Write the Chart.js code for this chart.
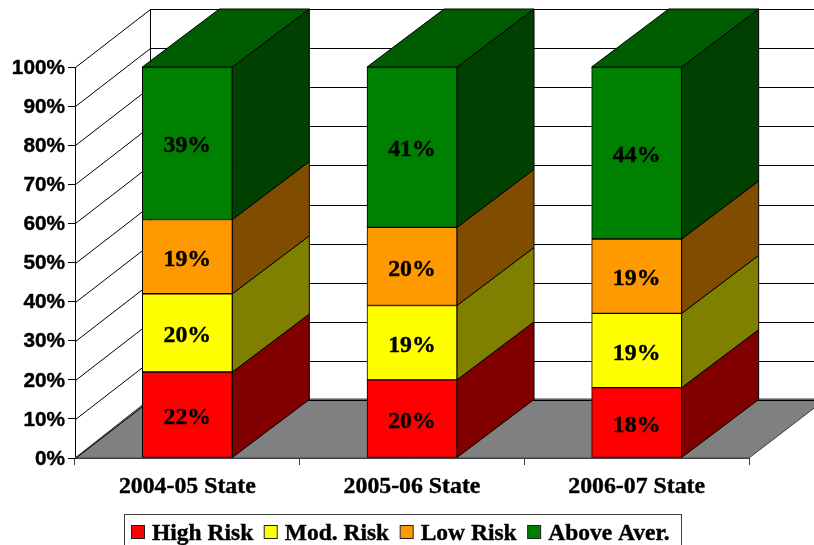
<!DOCTYPE html>
<html>
<head>
<meta charset="utf-8">
<title>Risk levels by year</title>
<script src="https://cdn.jsdelivr.net/npm/chart.js@4/dist/chart.umd.min.js"></script>
<style>
    html, body { margin: 0; padding: 0; background: #fff; overflow: hidden; }
    canvas { display: block; }
</style>
</head>
<body>
<canvas id="riskChart" width="814" height="545"></canvas>
<script>
const categories = ["2004-05 State", "2005-06 State", "2006-07 State"];
const highRisk = [22, 20, 18];
const modRisk = [20, 19, 19];
const lowRisk = [19, 20, 19];
const aboveAver = [39, 41, 44];

const serifBold = "bold 23.8px 'Liberation Serif'";
const legendFont = "bold 23.5px 'Liberation Serif'";

// wall / floor depth and bar depth
const wallDX = 75, wallDY = -58;
const barDX = 77, barDY = -58;

const seriesColors = [
    { front: "#ff0000", side: "#800000", top: "#800000" },
    { front: "#ffff00", side: "#808000", top: "#808000" },
    { front: "#ff9900", side: "#804c00", top: "#804c00" },
    { front: "#008000", side: "#004000", top: "#005c00" }
];

function poly(ctx, points, fill, stroke) {
    ctx.beginPath();
    points.forEach((p, i) => i ? ctx.lineTo(p[0], p[1]) : ctx.moveTo(p[0], p[1]));
    ctx.closePath();
    if (fill) { ctx.fillStyle = fill; ctx.fill(); }
    if (stroke) { ctx.strokeStyle = stroke; ctx.lineWidth = 1; ctx.stroke(); }
}

// bold text with a hairline stroke, the reference type is a bit heavier
function heavyText(ctx, text, x, y) {
    ctx.lineWidth = 0.4;
    ctx.strokeStyle = "#000";
    ctx.strokeText(text, x, y);
    ctx.fillText(text, x, y);
}

const depthPlugin = {
    id: "depth",
    beforeDatasetsDraw(chart) {
        const ctx = chart.ctx;
        const { left, right, bottom } = chart.chartArea;
        const y = chart.scales.y;
        ctx.save();

        // floor
        poly(ctx, [[left, bottom], [right, bottom], [right + barDX, bottom + wallDY - 1], [left + wallDX, bottom + wallDY - 1]], "#808080", "#404040");

        // walls
        ctx.strokeStyle = "#000";
        ctx.lineWidth = 1;
        y.ticks.forEach(t => {
            const py = Math.round(y.getPixelForValue(t.value)) + 0.5;
            const by = py + wallDY;
            ctx.beginPath();
            ctx.moveTo(left + 0.5, py);
            ctx.lineTo(left + wallDX + 0.5, by);
            ctx.lineTo(chart.width, by);
            ctx.stroke();
        });
        ctx.beginPath();
        ctx.moveTo(left + wallDX + 0.5, y.getPixelForValue(100) + wallDY);
        ctx.lineTo(left + wallDX + 0.5, bottom + wallDY);
        ctx.stroke();

        // bar sides and tops, front faces come from the library
        chart.data.datasets.forEach((ds, i) => {
            chart.getDatasetMeta(i).data.forEach(bar => {
                const x1 = bar.x - bar.width / 2, x2 = bar.x + bar.width / 2;
                poly(ctx, [[x2, bar.base], [x2 + barDX, bar.base + barDY], [x2 + barDX, bar.y + barDY], [x2, bar.y]], seriesColors[i].side, "#000");
                if (i === chart.data.datasets.length - 1) {
                    poly(ctx, [[x1, bar.y], [x1 + barDX, bar.y + barDY], [x2 + barDX, bar.y + barDY], [x2, bar.y]], seriesColors[i].top, "#000");
                }
            });
        });
        ctx.restore();
    },
    afterDatasetsDraw(chart) {
        const ctx = chart.ctx;
        ctx.save();
        ctx.font = serifBold;
        ctx.fillStyle = "#000";
        ctx.textAlign = "center";
        ctx.textBaseline = "middle";
        chart.data.datasets.forEach((ds, i) => {
            chart.getDatasetMeta(i).data.forEach((bar, j) => {
                heavyText(ctx, ds.data[j] + "%", bar.x, (bar.y + bar.base) / 2 + 3);
            });
        });
        ctx.restore();
    },
    afterDraw(chart) {
        // legend box along the bottom edge
        const ctx = chart.ctx;
        ctx.save();
        ctx.fillStyle = "#fff";
        ctx.strokeStyle = "#404040";
        ctx.lineWidth = 1;
        ctx.fillRect(124.5, 514.5, 557, 40);
        ctx.strokeRect(124.5, 514.5, 557, 40);
        ctx.font = legendFont;
        ctx.textBaseline = "alphabetic";
        ctx.textAlign = "left";
        let x = 131.5;
        chart.data.datasets.forEach((ds, i) => {
            ctx.fillStyle = seriesColors[i].front;
            ctx.fillRect(x, 525.5, 13, 13);
            ctx.strokeStyle = "#222";
            ctx.lineWidth = 1;
            ctx.strokeRect(x, 525.5, 13, 13);
            ctx.fillStyle = "#000";
            heavyText(ctx, ds.label, x + 20.5, 540);
            x += 20.5 + ctx.measureText(ds.label).width + 11;
        });
        ctx.restore();
    }
};

new Chart(document.getElementById("riskChart"), {
    type: "bar",
    data: {
        labels: categories,
        datasets: [
            { label: "High Risk", data: highRisk, backgroundColor: seriesColors[0].front },
            { label: "Mod. Risk", data: modRisk, backgroundColor: seriesColors[1].front },
            { label: "Low Risk", data: lowRisk, backgroundColor: seriesColors[2].front },
            { label: "Above Aver.", data: aboveAver, backgroundColor: seriesColors[3].front }
        ].map(ds => Object.assign(ds, { borderColor: "#000", borderWidth: 1, borderSkipped: false, barThickness: 90 }))
    },
    options: {
        responsive: false,
        animation: false,
        devicePixelRatio: 1,
        layout: { padding: { top: 67, right: 65, left: 0, bottom: 0 } },
        plugins: { legend: { display: false }, tooltip: { enabled: false } },
        scales: {
            x: {
                stacked: true,
                grid: { drawOnChartArea: false, tickLength: 7, color: "#404040" },
                border: { color: "#404040" },
                ticks: {
                    color: "#000",
                    font: { family: "'Liberation Serif'", size: 23.8, weight: "bold" },
                    padding: 8,
                    maxRotation: 0,
                    textStrokeColor: "#000",
                    textStrokeWidth: 0.4
                },
                afterFit(scale) { scale.height = 87; }
            },
            y: {
                stacked: true,
                min: 0,
                max: 100,
                grid: { drawOnChartArea: false, tickLength: 7, color: "#000" },
                border: { color: "#000" },
                ticks: {
                    stepSize: 10,
                    color: "#000",
                    font: { family: "'Liberation Sans'", size: 20.8, weight: "bold" },
                    padding: 3,
                    labelOffset: 1,
                    textStrokeColor: "#000",
                    textStrokeWidth: 0.4,
                    callback: v => v + "%"
                },
                afterFit(scale) { scale.width = 75; }
            }
        }
    },
    plugins: [depthPlugin]
});
</script>
</body>
</html>
